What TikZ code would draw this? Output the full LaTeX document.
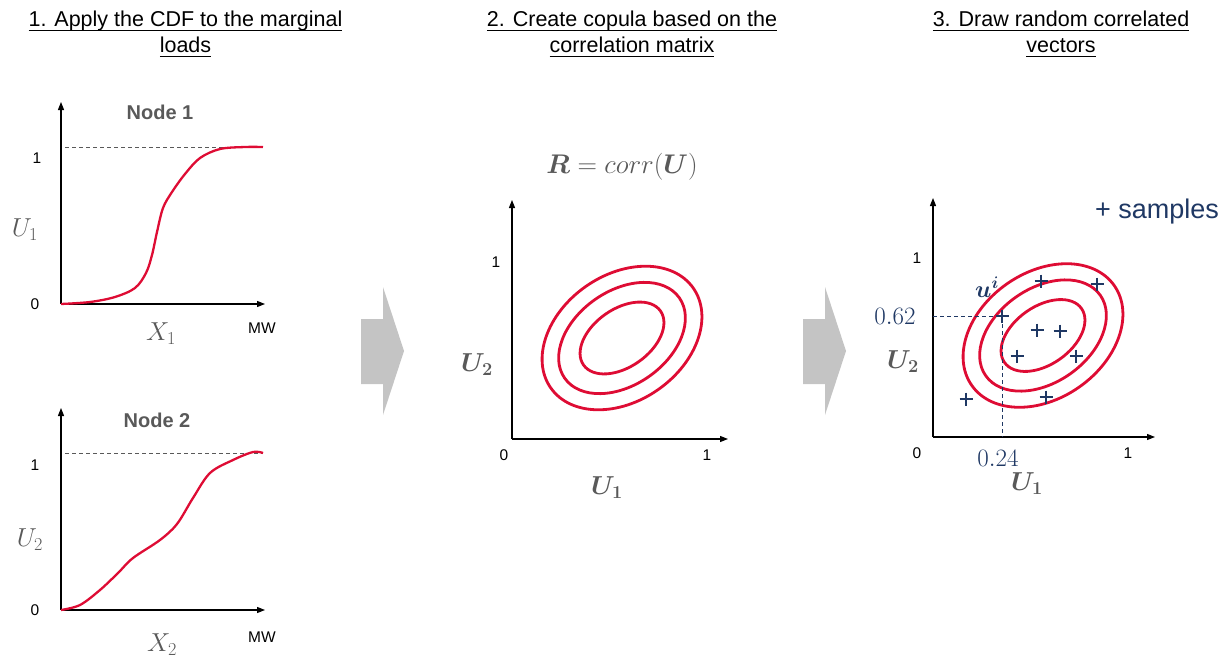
\RequirePackage{fix-cm}
\documentclass[tikz,border=0pt]{standalone}
\usepackage{fontspec}
\setmainfont{Liberation Sans}
\usepackage{bm}
\usetikzlibrary{arrows.meta}
\definecolor{curvered}{RGB}{222,12,52}
\definecolor{navy}{RGB}{31,56,100}
\definecolor{labelgray}{RGB}{89,89,89}
\definecolor{arrowgray}{RGB}{196,196,196}
\newcommand{\ulbox}[1]{\setbox0\hbox{#1}\rlap{\rule[-4.5pt]{\wd0}{1.1pt}}\box0}
\begin{document}
\begin{tikzpicture}[x=1pt,y=-1pt,
    axis/.style={line width=1.2pt,-{Triangle[length=8pt,width=6pt]}},
    cdf/.style={curvered,line width=2.3pt},
    contour/.style={curvered,line width=2.8pt},
    guide/.style={labelgray,line width=0.8pt,dash pattern=on 4pt off 3pt},
    pickline/.style={navy,line width=0.8pt,dash pattern=on 4pt off 3pt},
    cross/.style={navy,line width=2.3pt},
    title/.style={font=\fontsize{21.5}{26}\selectfont,align=center,anchor=north,inner sep=0pt},
    ticklbl/.style={font=\fontsize{15.5}{18}\selectfont,inner sep=0pt},
    nodelbl/.style={font=\fontsize{20}{24}\selectfont\bfseries,text=labelgray,inner sep=0pt},
    varlbl/.style={font=\fontsize{26}{30}\selectfont,text=labelgray,inner sep=0pt},
    picklbl/.style={font=\fontsize{25}{30}\selectfont,text=navy,inner sep=0pt},
    stepbox/.style={fill=arrowgray,draw=none}]
\useasboundingbox (0,0) rectangle (1229,664);

% titles
\node[title] (head1) at (185.5,10.5) {\ulbox{1. Apply the CDF to the marginal}\\\ulbox{loads}};
\node[title] (head2) at (632,10.5) {\ulbox{2. Create copula based on the}\\\ulbox{correlation matrix}};
\node[title] (head3) at (1061,10.5) {\ulbox{3. Draw random correlated}\\\ulbox{vectors}};

% step 1, node 1
\coordinate (oa) at (61,304);
\draw[axis] (oa) -- (61,102);
\draw[axis] (oa) -- (265,304);
\draw[guide] (65,147) -- (263,147);
\draw[cdf] plot[smooth,tension=0.55] coordinates {(61,304) (90,302) (115,297) (135,288) (146,273) (152,255) (157,232) (163,208) (172,192) (185,174) (200,158) (220,149) (245,147) (263,147)};
\node[nodelbl] (node1) at (160,112) {Node 1};
\node[ticklbl] (onea) at (37,158) {1};
\node[ticklbl] (zeroa) at (35,304) {0};
\node[varlbl] (ua) at (25,230) {$U_1$};
\node[varlbl] (xa) at (161,334) {$X_1$};
\node[ticklbl] (mwa) at (262,328) {MW};

% step 1, node 2
\coordinate (ob) at (61,610);
\draw[axis] (ob) -- (61,408);
\draw[axis] (ob) -- (265,610);
\draw[guide] (65,453) -- (263,453);
\draw[cdf] plot[smooth,tension=0.55] coordinates {(61,610) (80,605) (100,590) (118,573) (133,558) (160,540) (177,524) (193,498) (210,473) (233,460) (253,452) (263,453)};
\node[nodelbl] (node2) at (157,420) {Node 2};
\node[ticklbl] (oneb) at (35,465) {1};
\node[ticklbl] (zerob) at (35,610) {0};
\node[varlbl] (ub) at (30,540) {$U_2$};
\node[varlbl] (xb) at (162,645) {$X_2$};
\node[ticklbl] (mwb) at (262,637) {MW};

% arrows between steps
\fill[stepbox] (361,319) -- (383,319) -- (383,287) -- (404,351) -- (383,415) -- (383,384) -- (361,384) -- cycle;
\fill[stepbox] (803,319) -- (825,319) -- (825,287) -- (846,351) -- (825,415) -- (825,384) -- (803,384) -- cycle;

% step 2
\coordinate (oc) at (512,439);
\draw[axis] (oc) -- (512,200);
\draw[axis] (oc) -- (728,439);
\coordinate (cc) at (622,338);
\draw[contour,rotate around={35:(cc)}] (cc) ellipse [x radius=47,y radius=29];
\draw[contour,rotate around={35:(cc)}] (cc) ellipse [x radius=70,y radius=47];
\draw[contour,rotate around={35:(cc)}] (cc) ellipse [x radius=87,y radius=63];
\node[varlbl,font=\fontsize{27}{32}\selectfont] (rmat) at (622,167) {$\bm{R}=corr(\bm{U})$};
\node[ticklbl] (onec) at (496,262) {1};
\node[ticklbl] (zeroc) at (504,455) {0};
\node[ticklbl] (onecx) at (707,455) {1};
\node[varlbl] (uc2) at (477,365) {$\bm{U}_{\bm{2}}$};
\node[varlbl] (uc1) at (607,488) {$\bm{U}_{\bm{1}}$};

% step 3
\coordinate (od) at (933,437);
\draw[axis] (od) -- (933,198);
\draw[axis] (od) -- (1155,437);
\coordinate (cd) at (1043,335.5);
\draw[contour,rotate around={35:(cd)}] (cd) ellipse [x radius=47,y radius=29];
\draw[contour,rotate around={35:(cd)}] (cd) ellipse [x radius=70,y radius=47];
\draw[contour,rotate around={35:(cd)}] (cd) ellipse [x radius=87,y radius=63];
\coordinate (ui) at (1002,316);
\draw[pickline] (933,316) -- (ui) -- (1002,437);
\foreach \px/\py in {1041/281,1097/284,1002/316,1037/330,1060/331,1017/356,1076/356,966/399,1046/397}
  \draw[cross] (\px-6.5,\py) -- (\px+6.5,\py) (\px,\py-6.5) -- (\px,\py+6.5);
\node[font=\fontsize{27}{32}\selectfont,text=navy,inner sep=0pt] (legend) at (1157,212) {+ samples};
\node[picklbl,font=\fontsize{24}{28}\selectfont] (uilbl) at (987,287) {$\bm{u}^{\bm{i}}$};
\node[picklbl] (v062) at (895,316) {$0.62$};
\node[picklbl] (v024) at (998,458) {$0.24$};
\node[ticklbl] (oned) at (917,258) {1};
\node[ticklbl] (zerod) at (917,453) {0};
\node[ticklbl] (onedx) at (1128,453) {1};
\node[varlbl] (ud2) at (903,362) {$\bm{U}_{\bm{2}}$};
\node[varlbl] (ud1) at (1027,484) {$\bm{U}_{\bm{1}}$};
\end{tikzpicture}
\end{document}
